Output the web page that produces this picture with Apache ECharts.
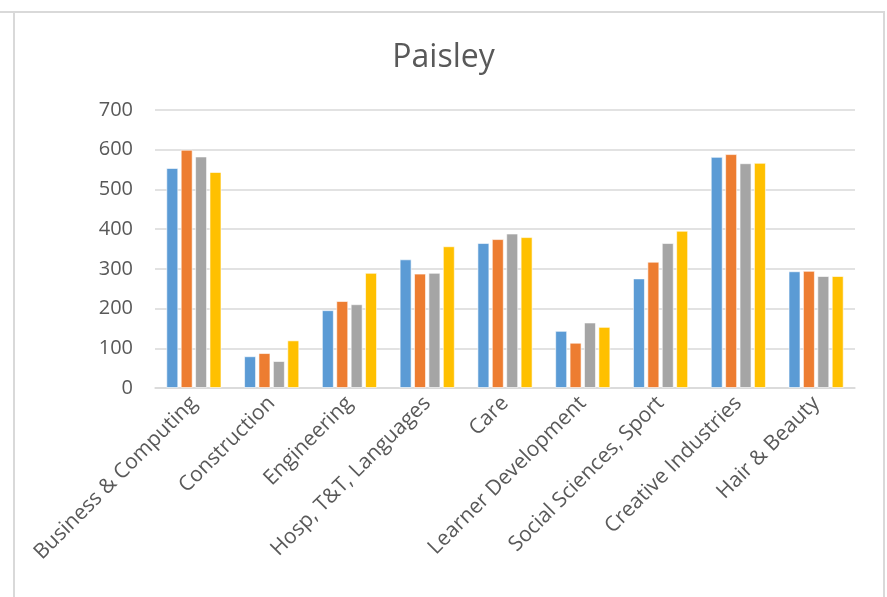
<!DOCTYPE html>
<html>
<head>
<meta charset="utf-8">
<script src="https://cdn.jsdelivr.net/npm/echarts@6/dist/echarts.min.js"></script>
<style>
  html, body { margin: 0; padding: 0; background: #fff; }
  #chart { width: 887px; height: 597px; }
</style>
</head>
<body>
<div id="chart"></div>
<script>
  // categories and values
  var categories = ['Business & Computing', 'Construction', 'Engineering', 'Hosp, T&T, Languages',
    'Care', 'Learner Development', 'Social Sciences, Sport', 'Creative Industries', 'Hair & Beauty'];
  var seriesA = [554, 80, 196, 324, 365, 144, 276, 582, 294];
  var seriesB = [600, 88, 219, 288, 375, 114, 318, 589, 295];
  var seriesC = [583, 68, 211, 290, 389, 165, 365, 566, 282];
  var seriesD = [544, 120, 290, 357, 380, 154, 396, 567, 282];
  var colors = ['#5b9bd5', '#ed7d31', '#a5a5a5', '#ffc000'];

  var chart = echarts.init(document.getElementById('chart'));
  var font = '"Open Sans", "Noto Sans", sans-serif';

  function bar(name, data) {
    return {
      name: name,
      type: 'bar',
      barWidth: 12,
      barGap: '20%',
      itemStyle: { borderColor: 'rgba(255,255,255,0.6)', borderWidth: 1 },
      data: data
    };
  }

  chart.setOption({
    animation: false,
    color: colors,
    title: {
      text: 'Paisley',
      left: 'center',
      top: 37,
      textStyle: { color: '#595959', fontSize: 32, fontWeight: 'normal', fontFamily: font }
    },
    // chart frame
    graphic: [{
      type: 'rect',
      shape: { x: 14, y: 12, width: 870, height: 600 },
      style: { fill: 'none', stroke: '#d9d9d9', lineWidth: 2 }
    }, {
      type: 'line',
      shape: { x1: 0, y1: 12, x2: 14, y2: 12 },
      style: { stroke: '#d9d9d9', lineWidth: 2 }
    }],
    grid: { left: 155, right: 32, top: 110, bottom: 209 },
    xAxis: {
      type: 'category',
      data: categories,
      axisTick: { show: false },
      axisLine: { lineStyle: { color: '#d9d9d9', width: 1.5 } },
      axisLabel: {
        interval: 0,
        rotate: 45,
        margin: 12,
        color: '#595959',
        fontSize: 21,
        fontFamily: font
      }
    },
    yAxis: {
      type: 'value',
      min: 0,
      max: 700,
      interval: 100,
      axisLine: { show: false },
      axisTick: { show: false },
      splitLine: { lineStyle: { color: '#d9d9d9', width: 1.5 } },
      axisLabel: { color: '#595959', fontSize: 20, margin: 22, fontFamily: font }
    },
    series: [
      bar('Series 1', seriesA),
      bar('Series 2', seriesB),
      bar('Series 3', seriesC),
      bar('Series 4', seriesD)
    ]
  });

  window.addEventListener('resize', function () {
    chart.resize();
  });
</script>
</body>
</html>
